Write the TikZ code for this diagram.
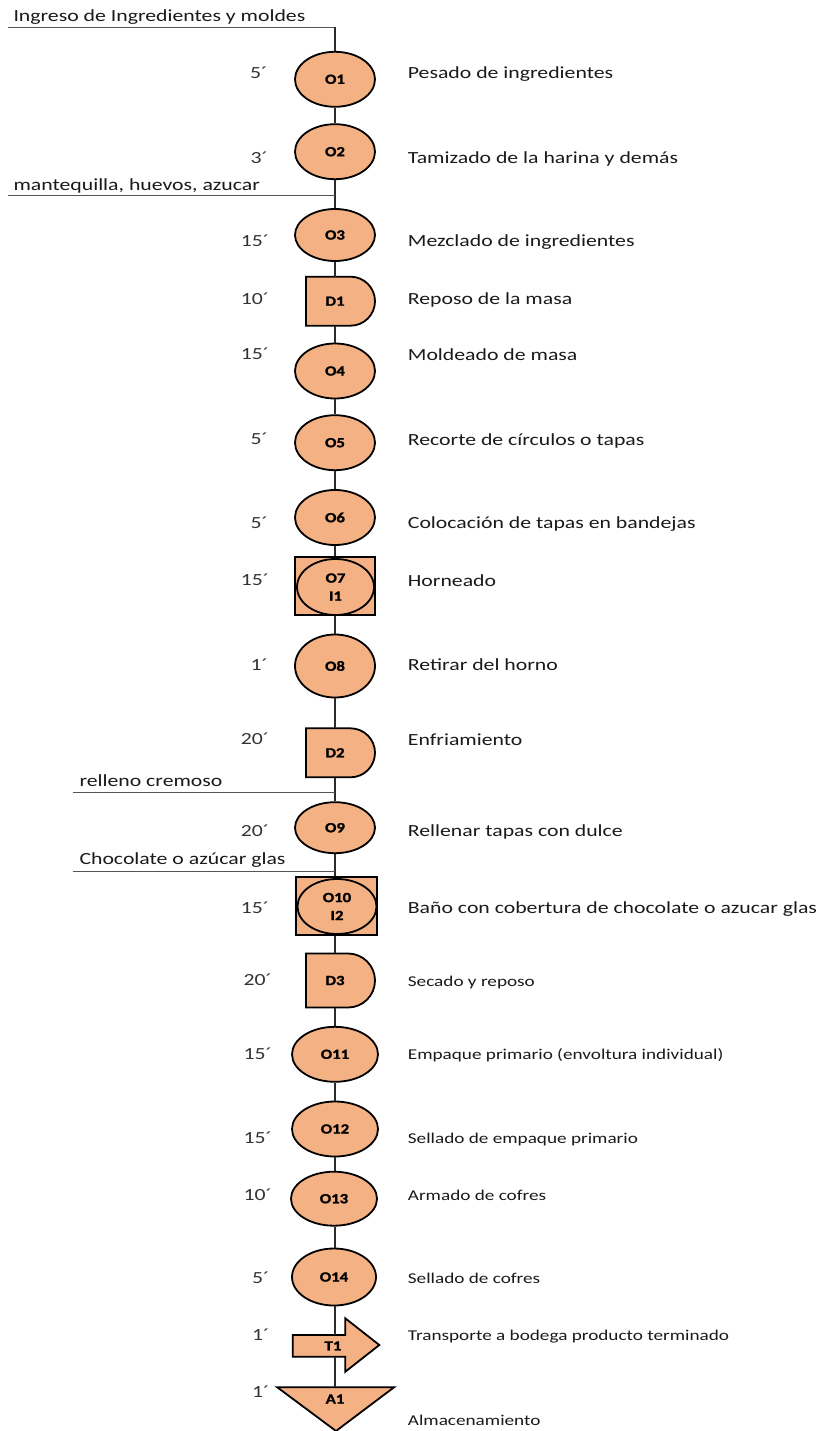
\documentclass[tikz,border=0pt]{standalone}
\usepackage{fontspec}
\setmainfont{Carlito}
\newfontfamily\lblfont{Carlito}[FakeStretch=1.28]
\newfontfamily\nfont{Carlito}[FakeStretch=1.2,BoldFeatures={FakeBold=1.5}]
\usetikzlibrary{shapes.geometric}
\definecolor{opfill}{HTML}{F4B183}
\definecolor{txt}{HTML}{1A1A1A}
\definecolor{tm}{HTML}{333333}
\definecolor{ln}{HTML}{2B2B2B}
% D-shaped delay symbol: name, x, y, height
\newcommand\Dnode[4]{%
  \pgfmathsetmacro\dr{#4/2}\pgfmathsetmacro\dl{69-#4/2}%
  \draw[shp] (#2-29,#3-\dr) -- ++(\dl,0) arc[start angle=90,end angle=-90,radius=\dr pt] -- ++(-\dl,0) -- cycle;
  \node[ghost,minimum width=58pt,minimum height=#4 pt] (#1) at (#2,#3) {#1};}
\begin{document}
\begin{tikzpicture}[x=1pt,y=-1pt,
  shp/.style={draw=black,line width=1.8pt,fill=opfill},
  op/.style={shp,ellipse,minimum width=80pt,minimum height=55pt,inner sep=0pt,align=center,
    font=\nfont\bfseries\fontsize{14}{18}\selectfont},
  insp/.style={shp,rectangle,minimum width=80pt,minimum height=58pt,inner sep=0pt},
  ghost/.style={inner sep=0pt,font=\nfont\bfseries\fontsize{14}{18}\selectfont},
  conn/.style={draw=ln,line width=1.1pt},
  inl/.style={draw=ln!80,line width=1pt},
  lbl/.style={anchor=base west,inner sep=0pt,text=txt,font=\lblfont\fontsize{17}{20}\selectfont},
  lbls/.style={anchor=base west,inner sep=0pt,text=txt,font=\lblfont\fontsize{15}{18}\selectfont},
  tim/.style={anchor=base west,inner sep=0pt,text=tm,font=\lblfont\fontsize{17}{20}\selectfont},
]
\useasboundingbox[fill=white] (0,0) rectangle (831,1431);

% ---------- input lines (left) ----------
\coordinate (inA) at (8,27.3);
\coordinate (inAc) at (335,27.3);
\coordinate (inB) at (8,196);
\coordinate (inC) at (72.7,792);
\coordinate (inD) at (72.7,871);
\node[lbl] (tinA) at (13.3,21.7) {Ingreso de Ingredientes y moldes};
\node[lbl] (tinB) at (13.3,190.7) {mantequilla, huevos, azucar};
\node[lbl] (tinC) at (79.3,786) {relleno cremoso};
\node[lbl] (tinD) at (79.3,864.5) {Chocolate o azúcar glas};

% ---------- symbols ----------
\node[op] (O1) at (335,79.3) {O1};
\node[op] (O2) at (335,151.7) {O2};
\node[op,minimum height=52pt] (O3) at (335,235) {O3};
\Dnode{D1}{335}{301.2}{49}
\node[op] (O4) at (335,371) {O4};
\node[op] (O5) at (335,442.7) {O5};
\node[op] (O6) at (335,517.5) {O6};
\node[insp] (O7) at (335,586) {};
\node[op,minimum width=77pt,minimum height=56pt] (O7e) at (335.5,587) {O7\\I1};
\node[op,minimum height=63pt] (O8) at (335,666) {O8};
\Dnode{D2}{335}{752.8}{49}
\node[op,minimum height=51pt] (O9) at (335,827.7) {O9};
\node[insp,minimum width=81pt] (O10) at (336.5,906.3) {};
\node[op,minimum width=79pt,minimum height=55pt] (O10e) at (337,906.5) {O10\\I2};
\Dnode{D3}{335}{980.5}{54}
\node[op,minimum width=86pt] (O11) at (335,1054.3) {O11};
\node[op,minimum width=86pt] (O12) at (335,1129) {O12};
\node[op,minimum width=86pt,minimum height=54pt] (O13) at (334,1198.7) {O13};
\node[op,minimum width=84pt,minimum height=57pt] (O14) at (334,1277) {O14};
% transport arrow
\draw[shp] (292.7,1335) -- (345.3,1335) -- (345.3,1318.3) -- (379.3,1345) -- (345.3,1371.7)
  -- (345.3,1356.7) -- (292.7,1356.7) -- cycle;
\node[ghost,minimum width=20pt,minimum height=21.7pt] (T1) at (333,1345.9) {T1};
% storage triangle
\draw[shp] (277.3,1387.3) -- (394,1387.3) -- (336,1431) -- cycle;
\node[ghost,minimum width=20pt,minimum height=23.4pt] (A1) at (335,1399) {A1};

% ---------- connectors ----------
\draw[inl] (inA) -- (inAc);
\draw[conn] (inAc) -- (O1);
\draw[conn] (O1) -- (O2);
\draw[conn] (O2) -- (O3);
\draw[inl] (inB) -- (inB -| O3);
\draw[conn] (O3) -- (D1);
\draw[conn] (D1) -- (O4);
\draw[conn] (O4) -- (O5);
\draw[conn] (O5) -- (O6);
\draw[conn] (O6) -- (O7);
\draw[conn] (O7) -- (O8);
\draw[conn] (O8) -- (D2);
\draw[conn] (D2) -- (O9);
\draw[inl] (inC) -- (inC -| O9);
\draw[conn] (O9) -- (O10.north -| O9);
\draw[inl] (inD) -- (inD -| O9);
\draw[conn] (O10.south -| D3) -- (D3);
\draw[conn] (D3) -- (O11);
\draw[conn] (O11) -- (O12);
\draw[conn] (O12) -- (O13.north -| O12);
\draw[conn] (O13.south -| O12) -- (O14.north -| O12);
\draw[conn] (O14.south -| O12) -- (T1.north -| O12);
\draw[conn] (T1.south -| O12) -- (A1.north -| O12);

% ---------- times ----------
\node[tim] (m1) at (250,78.7) {5´};
\node[tim] (m2) at (250.5,163.3) {3´};
\node[tim] (m3) at (240.7,246.3) {15´};
\node[tim] (m4) at (240.7,304) {10´};
\node[tim] (m5) at (240.7,359.3) {15´};
\node[tim] (m6) at (250.5,444.3) {5´};
\node[tim] (m7) at (250.5,528.3) {5´};
\node[tim] (m8) at (240.7,585.3) {15´};
\node[tim] (m9) at (250.5,670) {1´};
\node[tim] (m10) at (240.7,744.3) {20´};
\node[tim] (m11) at (240.7,836.7) {20´};
\node[tim] (m12) at (240.7,913.3) {15´};
\node[tim] (m13) at (243.3,985.7) {20´};
\node[tim] (m14) at (243.3,1059) {15´};
\node[tim] (m15) at (243.3,1143.3) {15´};
\node[tim] (m16) at (243.3,1200) {10´};
\node[tim] (m17) at (252,1283.3) {5´};
\node[tim] (m18) at (252,1340.7) {1´};
\node[tim] (m19) at (252,1397.3) {1´};

% ---------- descriptions ----------
\node[lbl] (d1) at (407.7,78.3) {Pesado de ingredientes};
\node[lbl] (d2) at (407.7,163.3) {Tamizado de la harina y demás};
\node[lbl] (d3) at (407.7,246.5) {Mezclado de ingredientes};
\node[lbl] (d4) at (407.7,304.3) {Reposo de la masa};
\node[lbl] (d5) at (407.7,360) {Moldeado de masa};
\node[lbl] (d6) at (407.7,445) {Recorte de círculos o tapas};
\node[lbl] (d7) at (407.7,528.3) {Colocación de tapas en bandejas};
\node[lbl] (d8) at (407.7,586) {Horneado};
\node[lbl] (d9) at (407.7,670.7) {Retirar del horno};
\node[lbl] (d10) at (407.7,745) {Enfriamiento};
\node[lbl] (d11) at (407.7,836.7) {Rellenar tapas con dulce};
\node[lbl] (d12) at (407.7,913.3) {Baño con cobertura de chocolate o azucar glas};
\node[lbls] (d13) at (407.7,986) {Secado y reposo};
\node[lbls] (d14) at (407.7,1059) {Empaque primario (envoltura individual)};
\node[lbls] (d15) at (407.7,1143.3) {Sellado de empaque primario};
\node[lbls] (d16) at (407.7,1200) {Armado de cofres};
\node[lbls] (d17) at (407.7,1283.3) {Sellado de cofres};
\node[lbls] (d18) at (407.7,1340) {Transporte a bodega producto terminado};
\node[lbls] (d19) at (407.7,1425) {Almacenamiento};
\end{tikzpicture}
\end{document}
